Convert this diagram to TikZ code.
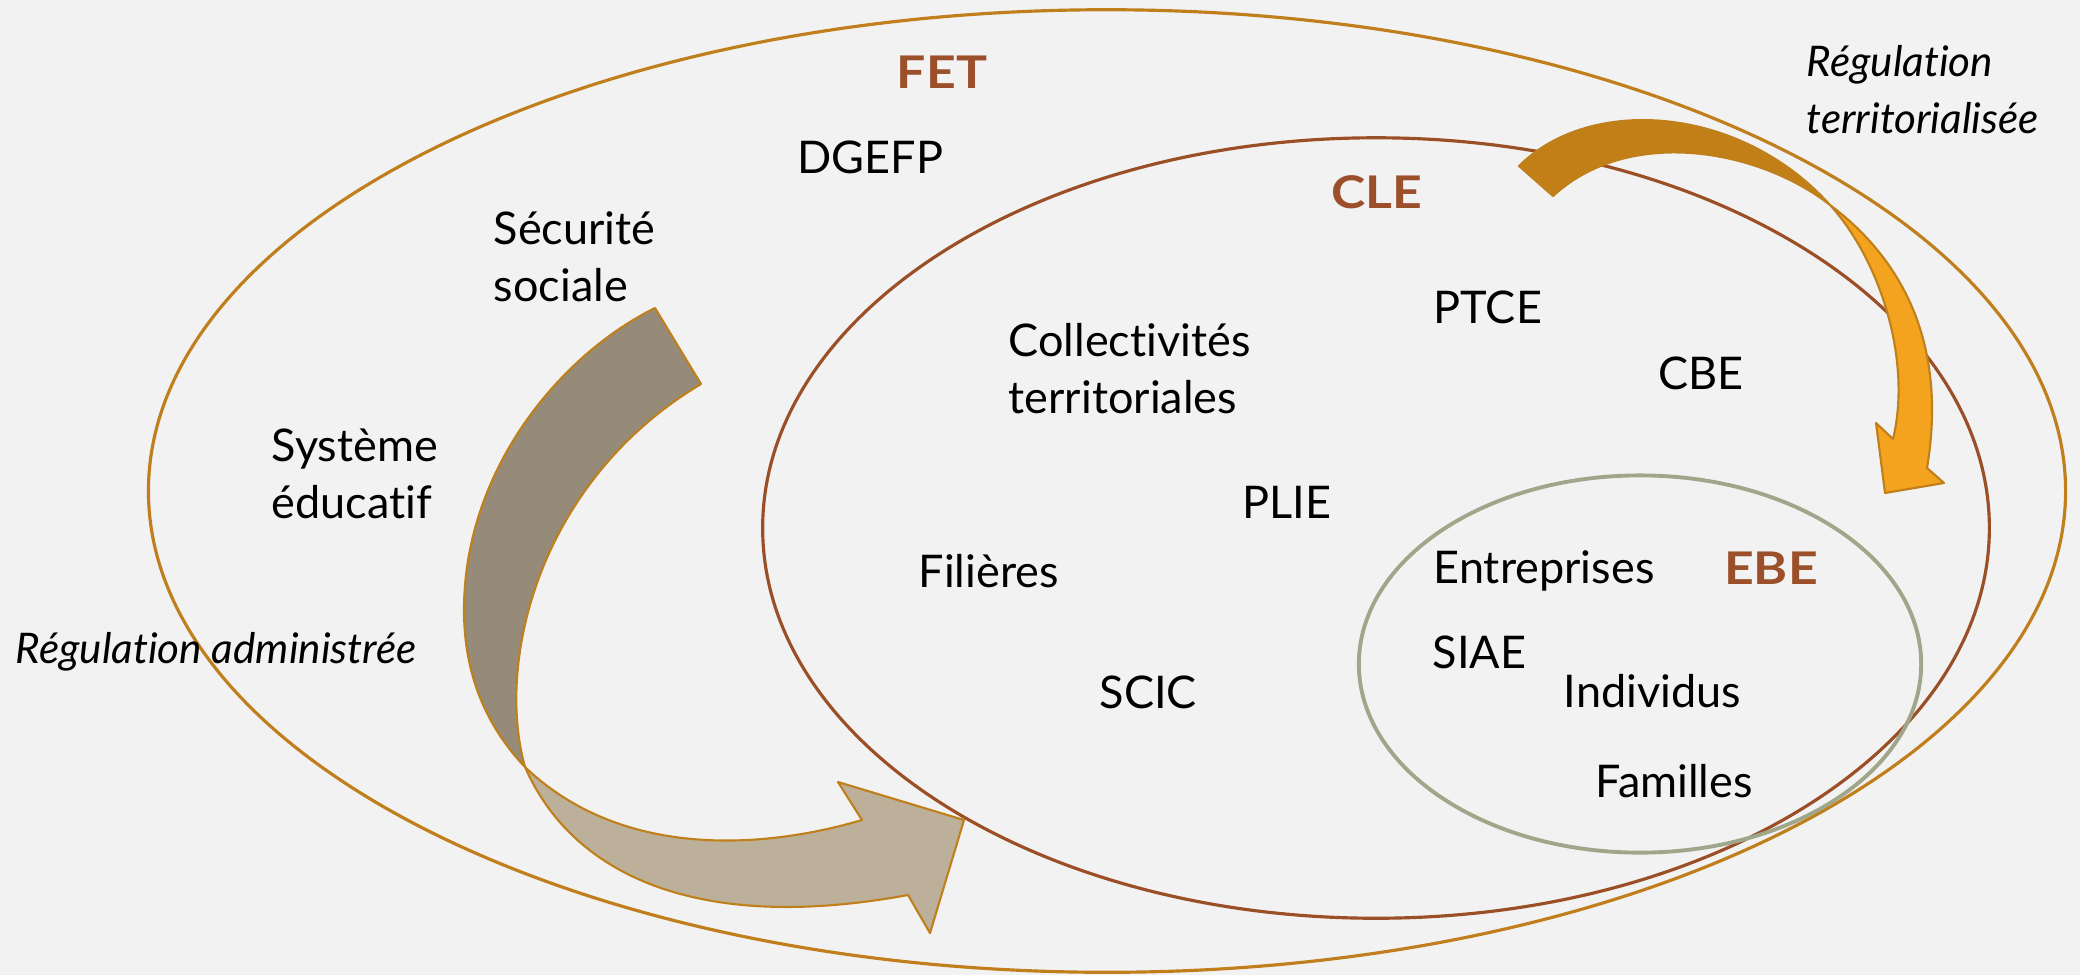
\documentclass[tikz,border=0pt]{standalone}
\usepackage{fontspec}
\setmainfont{Lato}[Ligatures=NoCommon]
\newfontfamily\zonefont{Lato}[FakeStretch=1.15]
\usetikzlibrary{positioning}

\definecolor{bgcol}{HTML}{F2F2F2}
\definecolor{fetcol}{HTML}{C07F1C}
\definecolor{clecol}{HTML}{9B4F27}
\definecolor{ebecol}{HTML}{A0A68A}
\definecolor{zonecol}{HTML}{9B4F2A}
\definecolor{greydark}{HTML}{968B78}
\definecolor{greylight}{HTML}{BCB09A}
\definecolor{orangedark}{HTML}{C27F17}
\definecolor{orangelight}{HTML}{F4A31F}
\definecolor{arrowline}{HTML}{BF7F1A}

\begin{document}
\begin{tikzpicture}[
    x=0.01cm, y=-0.01cm,
    every node/.append style = {font=\fontsize{12.8}{16.2}\selectfont, inner sep=0pt},
    item/.style = {anchor=base west, align=left},
    zone/.style = {anchor=base, text=zonecol,
      font=\fontsize{12.8}{16.2}\selectfont\zonefont\bfseries},
    regul/.style = {anchor=base west, align=left,
      font=\fontsize{12}{16.2}\selectfont\itshape},
    bent/.style = {draw=arrowline, line width=0.6pt, line join=round}
  ]
  \fill[bgcol] (0,0) rectangle (2080,975);
  \useasboundingbox (0,0) rectangle (2080,975);

  \draw[fetcol, line width=0.9pt] (1107,491) ellipse [x radius=9.58cm, y radius=4.81cm];
  \draw[clecol, line width=0.9pt] (1376,528) ellipse [x radius=6.13cm, y radius=3.9cm];
  \draw[ebecol, line width=1.1pt] (1640,664) ellipse [x radius=2.81cm, y radius=1.885cm];

  \filldraw[bent, fill=greydark]
    (655,308) .. controls (560,355) and (464,470) .. (464,610)
    .. controls (464,680) and (490,730) .. (525,767)
    .. controls (495,660) and (540,480) .. (701,384) -- cycle;
  \filldraw[bent, fill=greylight]
    (525,767) .. controls (570,870) and (690,935) .. (908,895)
    -- (930,933) -- (964,820) -- (838,782) -- (862,820)
    .. controls (760,850) and (620,858) .. (525,767) -- cycle;

  \filldraw[bent, fill=orangedark]
    (1519,166) .. controls (1590,95) and (1740,105) .. (1830,205)
    .. controls (1760,150) and (1630,125) .. (1553,196) -- cycle;
  \filldraw[bent, fill=orangelight]
    (1830,205) .. controls (1890,250) and (1950,330) .. (1927,468)
    -- (1944,483) -- (1885,493) -- (1876,423) -- (1893,439)
    .. controls (1912,360) and (1880,260) .. (1830,205) -- cycle;

  \node[zone] (fet) at (942,88) {FET};
  \node[zone] (cle) at (1377,208) {CLE};
  \node[zone] (ebe) at (1771,584) {EBE};

  \node[item] (dgefp) at (797,173) {DGEFP};
  \node[item] (secu) at (493,301) {Sécurité\\sociale};
  \node[item] (educ) at (271,518) {Système\\éducatif};
  \node[item] (collect) at (1008,413) {Collectivités\\territoriales};
  \node[item] (ptce) at (1433,323) {PTCE};
  \node[item] (cbe) at (1658,389) {CBE};
  \node[item] (plie) at (1242,518) {PLIE};
  \node[item] (filieres) at (918,587) {Filières};
  \node[item] (scic) at (1099,708) {SCIC};
  \node[item] (entrep) at (1433,583) {Entreprises};
  \node[item] (siae) at (1432,668) {SIAE};
  \node[item] (indiv) at (1563,707) {Individus};
  \node[item] (famil) at (1595,797) {Familles};

  \node[regul] (regadmin) at (15,663) {Régulation administrée};
  \node[regul] (regterr) at (1806,133) {Régulation\\territorialisée};
\end{tikzpicture}
\end{document}
